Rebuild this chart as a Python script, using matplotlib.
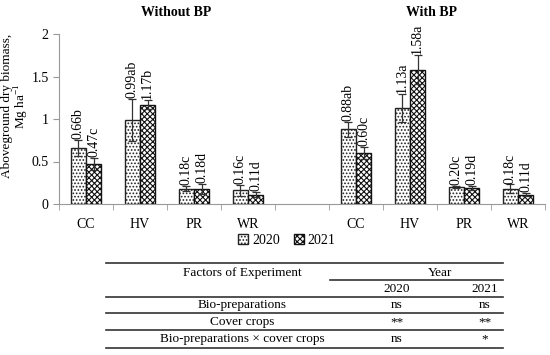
import matplotlib
matplotlib.use("Agg")
import matplotlib.pyplot as plt
import numpy as np
from matplotlib.lines import Line2D
from matplotlib.patches import Patch

plt.rcParams['font.family'] = ['Liberation Serif', 'DejaVu Serif']
plt.rcParams['hatch.linewidth'] = 0.8

crops = ["CC", "HV", "PR", "WR"]
groups = ["Without BP", "With BP"]
v2020 = {"Without BP": [0.66, 0.99, 0.18, 0.16], "With BP": [0.88, 1.13, 0.20, 0.18]}
v2021 = {"Without BP": [0.47, 1.17, 0.18, 0.11], "With BP": [0.60, 1.58, 0.19, 0.11]}
e2020 = {"Without BP": [0.09, 0.25, 0.03, 0.06], "With BP": [0.09, 0.17, 0.01, 0.05]}
e2021 = {"Without BP": [0.07, 0.05, 0.06, 0.03], "With BP": [0.07, 0.17, 0.02, 0.02]}
lab2020 = {"Without BP": ["0.66b", "0.99ab", "0.18c", "0.16c"], "With BP": ["0.88ab", "1.13a", "0.20c", "0.18c"]}
lab2021 = {"Without BP": ["0.47c", "1.17b", "0.18d", "0.11d"], "With BP": ["0.60c", "1.58a", "0.19d", "0.11d"]}

table_header = ["Factors of Experiment", "Year", "2020", "2021"]
table_rows = [["Bio-preparations", "ns", "ns"],
              ["Cover crops", "**", "**"],
              ["Bio-preparations × cover crops", "ns", "*"]]

fig = plt.figure(figsize=(5.5, 3.55), dpi=100)
ax = fig.add_axes([59/550, 1-204/355, (545-59)/550, (204-34)/355])

w = 0.28
positions = {"Without BP": np.arange(4) + 0.5, "With BP": np.arange(4) + 5.5}
for g in groups:
    x = positions[g]
    ax.bar(x - w/2, v2020[g], w, color='white', edgecolor='#222222', hatch='.....', linewidth=1.0,
           yerr=e2020[g], error_kw=dict(ecolor='#333333', elinewidth=0.9, capsize=3, capthick=0.9))
    ax.bar(x + w/2, v2021[g], w, color='white', edgecolor='#111111', hatch='xxxxxx', linewidth=1.0,
           yerr=e2021[g], error_kw=dict(ecolor='#333333', elinewidth=0.9, capsize=3, capthick=0.9))
    for xi, v, e, t in zip(x - w/2, v2020[g], e2020[g], lab2020[g]):
        ax.text(xi, v + e + 0.01, t, rotation=90, ha='center', va='bottom', fontsize=10)
    for xi, v, e, t in zip(x + w/2, v2021[g], e2021[g], lab2021[g]):
        ax.text(xi, v + e + 0.01, t, rotation=90, ha='center', va='bottom', fontsize=10)

ax.set_xlim(0, 9)
ax.set_ylim(0, 2)
ax.set_yticks([0, 0.5, 1, 1.5, 2])
ax.set_yticklabels(["0", "0.5", "1", "1.5", "2"], fontsize=10)
ax.set_xticks(list(positions["Without BP"]) + list(positions["With BP"]))
ax.set_xticklabels(crops + crops, fontsize=10)
ax.set_xticks(np.arange(0, 10), minor=True)
ax.tick_params(axis='x', which='major', length=0, pad=10)
ax.tick_params(axis='x', which='minor', length=4, color='#999999')
ax.tick_params(axis='y', length=4, color='#999999')
for s in ['top', 'right']:
    ax.spines[s].set_visible(False)
for s in ['left', 'bottom']:
    ax.spines[s].set_color('#999999')

fig.text(16/550, 1-106/355, "Aboveground dry biomass,\nMg ha$^{\\mathregular{-1}}$", rotation=90,
         ha='center', va='center', fontsize=9.5, multialignment='center', linespacing=1.05)
ax.text(2.17, 2.25, groups[0], ha='center', va='center', fontsize=10, fontweight='bold')
ax.text(6.9, 2.25, groups[1], ha='center', va='center', fontsize=10, fontweight='bold')

handles = [Patch(facecolor='white', edgecolor='#222222', hatch='.....', label='2020'),
           Patch(facecolor='white', edgecolor='#111111', hatch='xxxxxx', label='2021')]
fig.legend(handles=handles, loc='center', bbox_to_anchor=(287/550, 1-240/355), ncol=2, frameon=False,
           fontsize=10, handlelength=0.7, handleheight=0.7, handletextpad=0.3, columnspacing=1.0)

# table
def fx(px): return px/550
def fy(py): return 1 - py/355
def hline(x0, x1, y, lw=1.2):
    fig.add_artist(Line2D([fx(x0), fx(x1)], [fy(y), fy(y)], color='#333333', lw=lw))
hline(106, 503, 263)
hline(330, 503, 280)
hline(106, 503, 297)
hline(106, 503, 313)
hline(106, 503, 330)
hline(106, 503, 348)
fs = 9.5
fig.text(fx(242), fy(273), table_header[0], ha='center', va='center', fontsize=fs)
fig.text(fx(440), fy(273), table_header[1], ha='center', va='center', fontsize=fs)
fig.text(fx(397), fy(289), table_header[2], ha='center', va='center', fontsize=fs)
fig.text(fx(498), fy(289), table_header[3], ha='right', va='center', fontsize=fs)
row_y = [305, 322, 339]
for r, y in zip(table_rows, row_y):
    fig.text(fx(242), fy(y), r[0], ha='center', va='center', fontsize=fs)
    fig.text(fx(397), fy(y), r[1], ha='center', va='center', fontsize=fs)
    fig.text(fx(485), fy(y), r[2], ha='center', va='center', fontsize=fs)

fig.savefig("out.png", dpi=100)
